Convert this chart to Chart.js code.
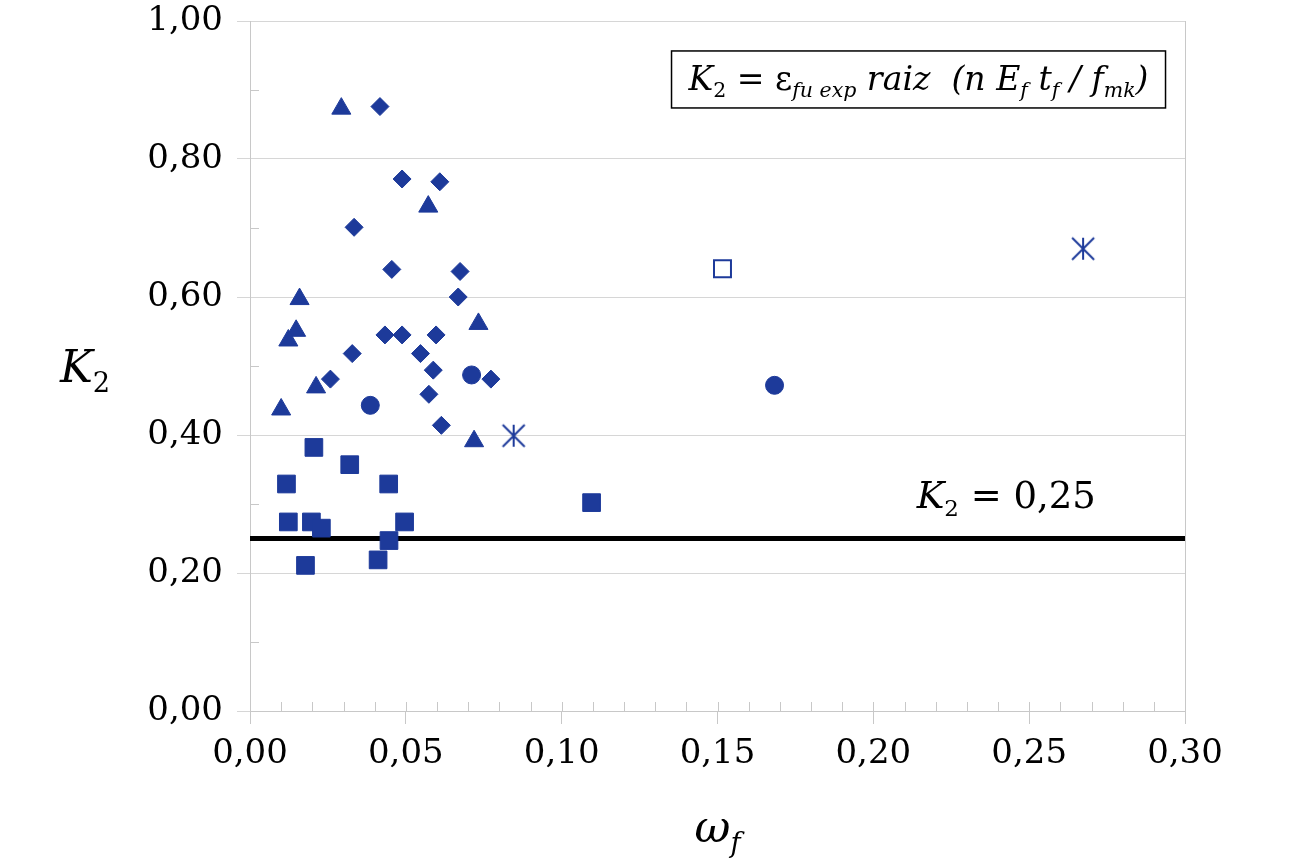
<!DOCTYPE html>
<html>
<head>
<meta charset="utf-8">
<script src="https://cdn.jsdelivr.net/npm/chart.js@4.4.1/dist/chart.umd.min.js"></script>
<style>
  html, body { margin: 0; padding: 0; background: #fff; }
  #wrap { width: 1299px; height: 859px; }
</style>
</head>
<body>
<div id="wrap"><canvas id="chart"></canvas></div>
<script>
// values (x = omega_f, y = K2)
const diamondX = [0.0417, 0.0488, 0.0609, 0.0334, 0.0455, 0.0674, 0.0668, 0.0433, 0.0488, 0.0597, 0.0547, 0.0328, 0.0588, 0.0773, 0.0258, 0.0574, 0.0614];
const diamondY = [0.876, 0.771, 0.767, 0.701, 0.640, 0.637, 0.600, 0.545, 0.545, 0.545, 0.518, 0.518, 0.494, 0.481, 0.481, 0.459, 0.414];

const triangleX = [0.0293, 0.0572, 0.0159, 0.0733, 0.0148, 0.0123, 0.0212, 0.0100, 0.0719];
const triangleY = [0.873, 0.731, 0.597, 0.561, 0.551, 0.537, 0.469, 0.437, 0.391];

const squareX = [0.0205, 0.0320, 0.0117, 0.0445, 0.0123, 0.0197, 0.0229, 0.0496, 0.0446, 0.0411, 0.0178, 0.1096];
const squareY = [0.382, 0.357, 0.329, 0.329, 0.274, 0.274, 0.265, 0.274, 0.247, 0.219, 0.211, 0.302];

const circleX = [0.0386, 0.0711, 0.1683];
const circleY = [0.443, 0.487, 0.472];

const openSquareX = [0.1516];
const openSquareY = [0.641];

const starX = [0.0846, 0.2673];
const starY = [0.399, 0.670];

// reference line K2 = 0,25
const limitX = [0, 0.30];
const limitY = [0.25, 0.25];

const BLUE = '#1d3a9a';
const FONT = '"DejaVu Serif", "Liberation Serif", serif';

const pts = (xs, ys) => xs.map((x, i) => ({ x: x, y: ys[i] }));

// asterisk marker (X plus vertical bar)
const star = document.createElement('canvas');
star.width = 26; star.height = 26;
(function () {
  const c = star.getContext('2d');
  c.strokeStyle = BLUE;
  c.lineWidth = 2;
  c.beginPath();
  c.moveTo(13, 2); c.lineTo(13, 24);
  c.moveTo(2, 2); c.lineTo(24, 24);
  c.moveTo(24, 2); c.lineTo(2, 24);
  c.stroke();
})();

function fmt(v) {
  return v.toFixed(2).replace('.', ',');
}

// draws a run of pieces: [text, italic, sub]
function drawRich(ctx, segs, x, y, size) {
  let cx = x;
  segs.forEach(s => {
    const sz = s[2] ? size * 0.62 : size;
    ctx.font = (s[1] ? 'italic ' : '') + sz + 'px ' + FONT;
    ctx.fillText(s[0], cx, s[2] ? y + size * 0.22 : y);
    cx += ctx.measureText(s[0]).width;
  });
  return cx - x;
}
function richWidth(ctx, segs, size) {
  let w = 0;
  segs.forEach(s => {
    const sz = s[2] ? size * 0.62 : size;
    ctx.font = (s[1] ? 'italic ' : '') + sz + 'px ' + FONT;
    w += ctx.measureText(s[0]).width;
  });
  return w;
}

const formula = [
  ['K', true], ['2', false, true], [' = ε', false], ['fu exp', true, true],
  [' raiz  (n E', true], ['f', true, true], [' t', true], ['f', true, true],
  [' / f', true], ['mk', true, true], [')', true]
];

const extras = {
  id: 'extras',
  beforeDatasetsDraw(chart) {
    const { ctx, chartArea: a, scales: { x, y } } = chart;
    ctx.save();
    ctx.strokeStyle = '#c8c8c8';
    ctx.lineWidth = 1;
    ctx.beginPath();
    // minor ticks, inside the plot
    for (let i = 1; i < 30; i++) {
      const px = Math.round(x.getPixelForValue(i / 100)) + 0.5;
      ctx.moveTo(px, a.bottom); ctx.lineTo(px, a.bottom - 9);
    }
    for (let i = 1; i < 10; i += 2) {
      const py = Math.round(y.getPixelForValue(i / 10)) + 0.5;
      ctx.moveTo(a.left, py); ctx.lineTo(a.left + 9, py);
    }
    // right frame
    ctx.moveTo(a.right + 0.5, a.top); ctx.lineTo(a.right + 0.5, a.bottom);
    ctx.stroke();
    ctx.restore();
  },
  afterDraw(chart) {
    const { ctx, chartArea: a, scales: { x, y } } = chart;
    ctx.save();
    ctx.fillStyle = '#000';
    ctx.textBaseline = 'alphabetic';
    ctx.textAlign = 'left';

    // axis titles
    drawRich(ctx, [['K', true], ['2', false, true]], 60, (a.top + a.bottom) / 2 + 16, 44);
    const ww = richWidth(ctx, [['ω', true], ['f', true, true]], 44);
    drawRich(ctx, [['ω', true], ['f', true, true]], (a.left + a.right) / 2 - ww / 2, 842, 44);

    // formula box
    let size = 38;
    let w = richWidth(ctx, formula, size);
    if (w > 460) { size = size * 460 / w; w = richWidth(ctx, formula, size); }
    const bx = x.getPixelForValue(0.2145), by = y.getPixelForValue(0.916);
    ctx.strokeStyle = '#000';
    ctx.lineWidth = 1.5;
    ctx.fillStyle = '#fff';
    ctx.fillRect(bx - 247, by - 28, 494, 57);
    ctx.strokeRect(bx - 247, by - 28, 494, 57);
    ctx.fillStyle = '#000';
    drawRich(ctx, formula, bx - w / 2, by + size * 0.33, size);

    // limit label
    drawRich(ctx, [['K', true], ['2', false, true], [' = 0,25', false]],
      x.getPixelForValue(0.2139), y.getPixelForValue(0.294), 37);
    ctx.restore();
  }
};

new Chart(document.getElementById('chart'), {
  type: 'scatter',
  data: {
    datasets: [
      { data: pts(diamondX, diamondY), pointStyle: 'rectRot', pointRadius: 9, backgroundColor: BLUE, borderColor: BLUE, borderWidth: 1 },
      { data: pts(triangleX, triangleY), pointStyle: 'triangle', pointRadius: 11, backgroundColor: BLUE, borderColor: BLUE, borderWidth: 1 },
      { data: pts(squareX, squareY), pointStyle: 'rect', pointRadius: 12.5, backgroundColor: BLUE, borderColor: BLUE, borderWidth: 1 },
      { data: pts(circleX, circleY), pointStyle: 'circle', pointRadius: 9, backgroundColor: BLUE, borderColor: BLUE, borderWidth: 1 },
      { data: pts(openSquareX, openSquareY), pointStyle: 'rect', pointRadius: 12, backgroundColor: '#fff', borderColor: BLUE, borderWidth: 2 },
      { data: pts(starX, starY), pointStyle: star, pointRadius: 12 },
      { type: 'line', data: pts(limitX, limitY), borderColor: '#000', borderWidth: 5, pointRadius: 0, order: 10 }
    ]
  },
  options: {
    responsive: true,
    maintainAspectRatio: false,
    animation: false,
    events: [],
    layout: { padding: { top: 21, right: 114, left: 0, bottom: 0 } },
    plugins: { legend: { display: false }, tooltip: { enabled: false } },
    scales: {
      x: {
        type: 'linear', min: 0, max: 0.30,
        afterFit(s) { s.height = 148; s.paddingLeft = 0; s.paddingRight = 0; },
        border: { color: '#c8c8c8' },
        grid: { drawOnChartArea: false, color: '#c8c8c8', tickLength: 13 },
        ticks: { stepSize: 0.05, padding: 10, color: '#000', font: { family: FONT, size: 34 }, callback: fmt }
      },
      y: {
        type: 'linear', min: 0, max: 1,
        afterFit(s) { s.width = 250; s.paddingTop = 0; s.paddingBottom = 0; },
        border: { color: '#c8c8c8' },
        grid: { color: '#d6d6d6', tickLength: 13 },
        ticks: { stepSize: 0.2, padding: 14, color: '#000', font: { family: FONT, size: 34 }, callback: fmt }
      }
    }
  },
  plugins: [extras]
});
</script>
</body>
</html>
